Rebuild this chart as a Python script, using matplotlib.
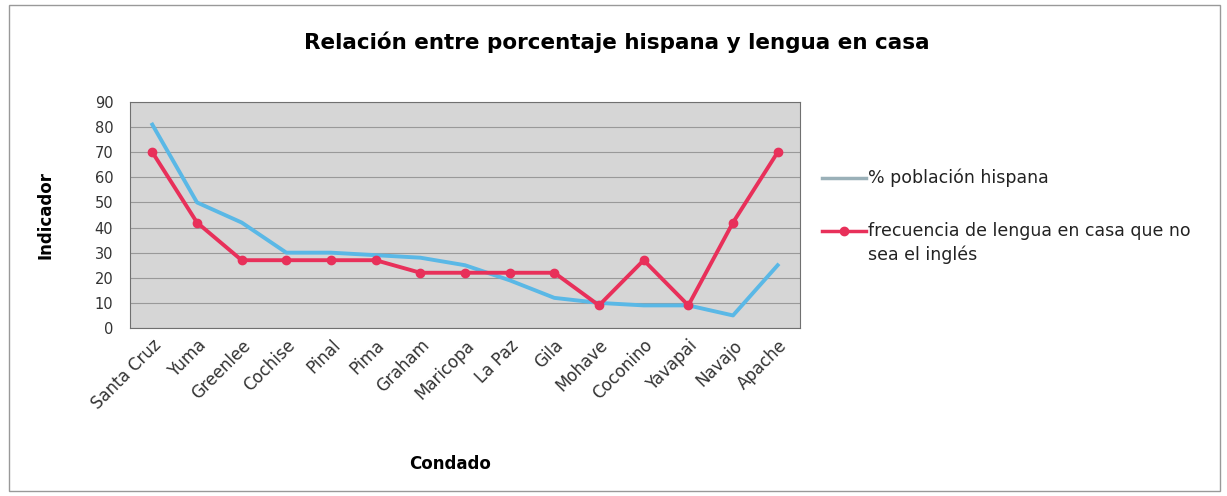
import numpy as np
import matplotlib
matplotlib.use("Agg")
import matplotlib.pyplot as plt
from matplotlib.patches import Rectangle
from matplotlib.lines import Line2D

plt.rcParams['font.family'] = ['DejaVu Sans']

condados = ['Santa Cruz', 'Yuma', 'Greenlee', 'Cochise', 'Pinal', 'Pima', 'Graham',
            'Maricopa', 'La Paz', 'Gila', 'Mohave', 'Coconino', 'Yavapai', 'Navajo', 'Apache']
hispana = [81, 50, 42, 30, 30, 29, 28, 25, 19, 12, 10, 9, 9, 5, 25]
lengua = [70, 42, 27, 27, 27, 27, 22, 22, 22, 22, 9, 27, 9, 42, 70]

W, H = 1227, 496
fig = plt.figure(figsize=(W/100, H/100), dpi=100)
fig.patches.append(Rectangle((0.007, 0.01), 0.987, 0.98, transform=fig.transFigure,
                             fill=False, edgecolor='#999999', linewidth=1))

ax = fig.add_axes([130/W, 1-328/H, 670/W, 226/H])
ax.set_facecolor('#d6d6d6')
x = np.arange(len(condados))
ax.plot(x, hispana, color='#5ab8e6', linewidth=2.8)
ax.plot(x, lengua, color='#e8305a', linewidth=2.8, marker='o', markersize=6)

ax.set_xlim(-0.5, len(condados) - 0.5)
ax.set_ylim(0, 90)
ax.set_yticks(range(0, 91, 10))
ax.yaxis.grid(True, color='#999999', linewidth=0.8)
ax.set_axisbelow(True)
for s in ax.spines.values():
    s.set_color('#707070')
ax.tick_params(axis='y', length=0, labelsize=10.5, colors='#333333', pad=12)
ax.tick_params(axis='x', length=0, labelsize=12, colors='#333333', pad=6)
ax.set_xticks(x)
ax.set_xticklabels(condados, rotation=45, ha='right', rotation_mode='anchor')

ax.set_ylabel('Indicador', fontsize=12, fontweight='bold')
ax.yaxis.set_label_coords((55-130)/670, 0.5)
ax.set_xlabel('Condado', fontsize=12, fontweight='bold')
ax.xaxis.set_label_coords((450-130)/670, -(455-328)/226)
fig.text(617/W, 1-42/H, 'Relación entre porcentaje hispana y lengua en casa',
         ha='center', va='center', fontsize=15.5, fontweight='bold')

# legend drawn by hand so the marker sits on the first line of the second entry
fig.lines.append(Line2D([822/W, 866/W], [1-178/H, 1-178/H], transform=fig.transFigure,
                        color='#9ab0b8', linewidth=2.5))
fig.text(868/W, 1-178/H, '% población hispana', fontsize=12.5, va='center', color='#222222')
fig.lines.append(Line2D([822/W, 844/W, 866/W], [1-231/H] * 3, transform=fig.transFigure,
                        color='#e8305a', linewidth=2.5, marker='o', markersize=6,
                        markevery=[1]))
fig.text(868/W, 1-231/H, 'frecuencia de lengua en casa que no', fontsize=12.5,
         va='center', color='#222222')
fig.text(868/W, 1-255/H, 'sea el inglés', fontsize=12.5, va='center', color='#222222')

fig.savefig('out.png', dpi=100)
